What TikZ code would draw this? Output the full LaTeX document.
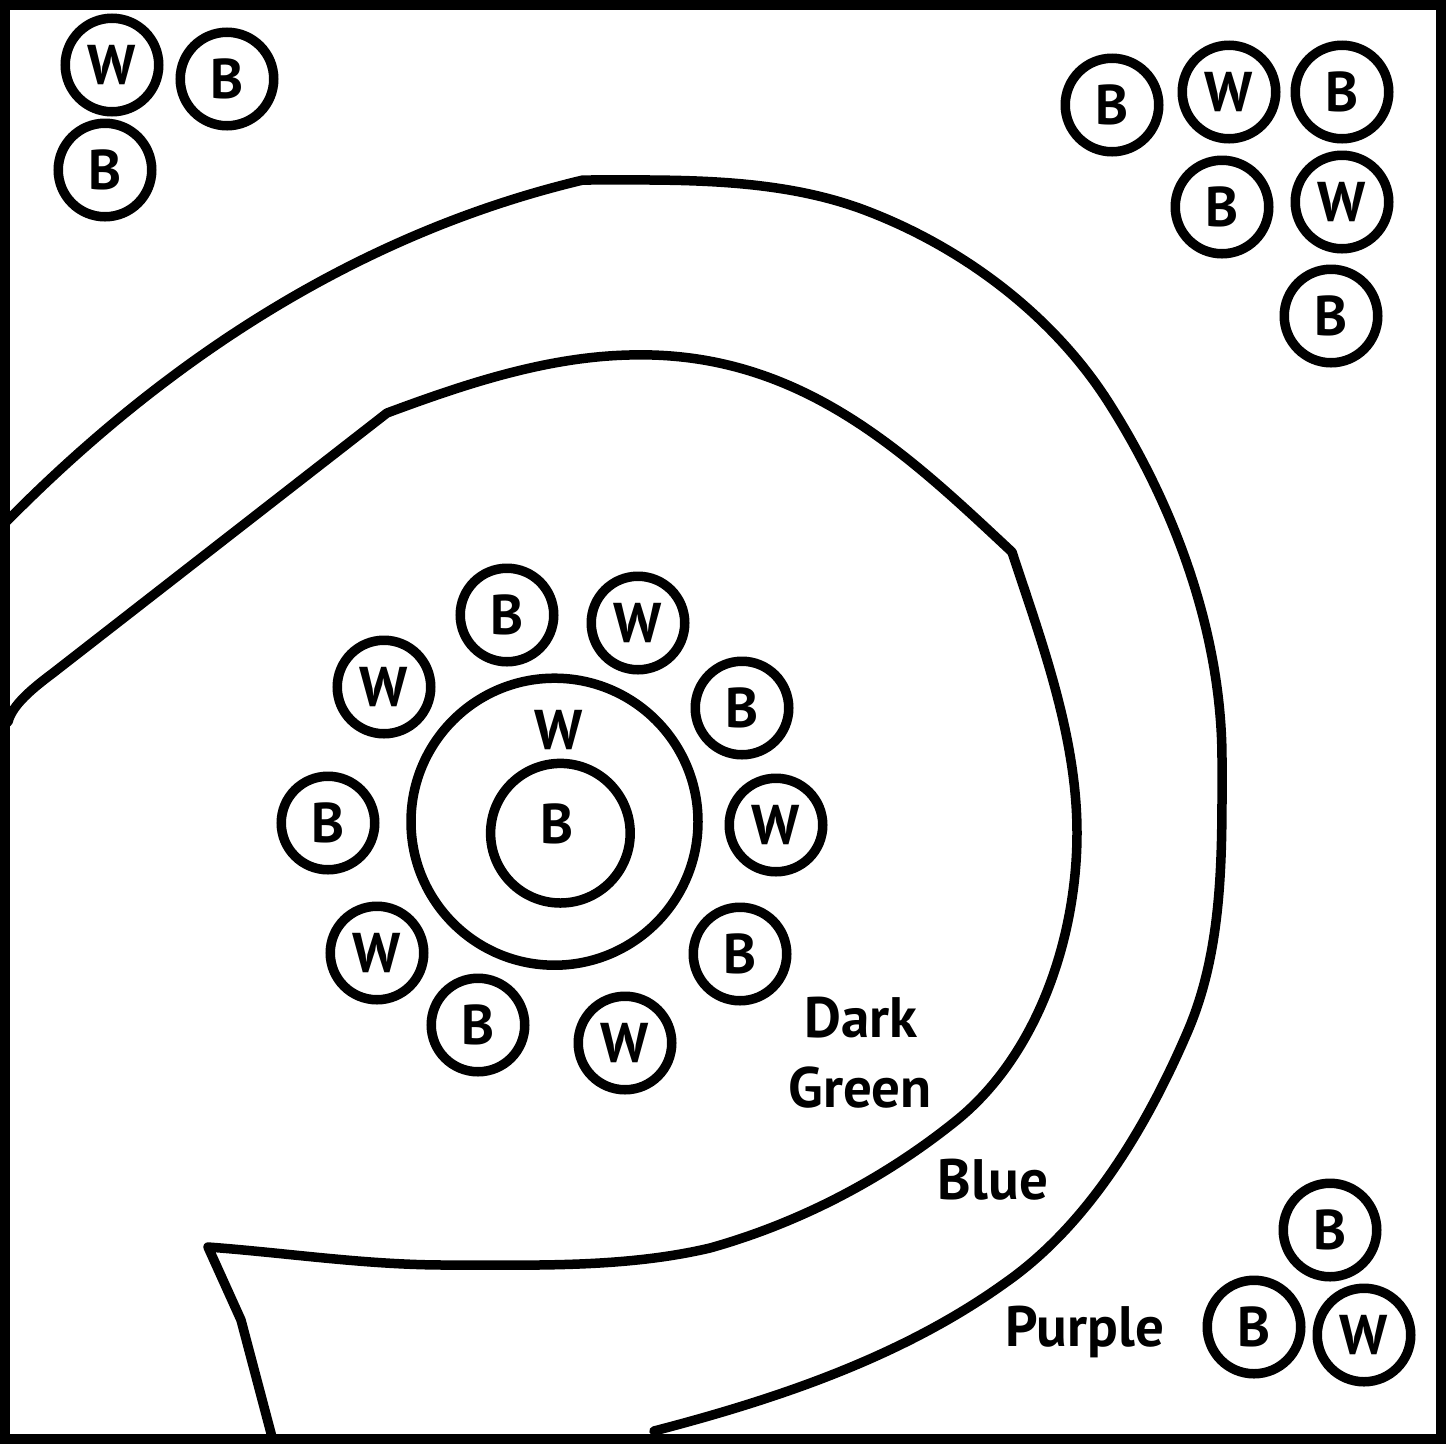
\documentclass[tikz,border=0pt]{standalone}
\usepackage{fontspec}
\setmainfont{PT Sans}
\begin{document}
\begin{tikzpicture}[x=1pt,y=-1pt,
  tok/.style={circle,draw,line width=9.5pt,minimum size=93.5pt,inner sep=0pt,
    font=\fontsize{56}{56}\selectfont\bfseries},
  lab/.style={inner sep=0pt,anchor=base,font=\fontsize{57}{57}\selectfont\bfseries},
  band/.style={line width=9.5pt,line cap=round,line join=round}]
\useasboundingbox (0,0) rectangle (1446,1444);
\draw[line width=10pt] (5,5) rectangle (1441,1439);

% outer boundary (between blue and purple)
\draw[band] (7,521) .. controls (168,358) and (360,233) .. (583,180)
  .. controls (675,180) and (772,177) .. (859,208)
  .. controls (958,244) and (1050,312) .. (1107,400)
  .. controls (1175,506) and (1222,634) .. (1222,760)
  .. controls (1222,852) and (1224,948) .. (1187,1033)
  .. controls (1146,1128) and (1088,1225) .. (1005,1283)
  .. controls (902,1357) and (777,1399) .. (654,1431);

% inner boundary (between dark green and blue)
\draw[band] (8,722) .. controls (12,705) and (33,688) .. (53,673) -- (387,413)
  .. controls (465,384) and (546,357) .. (629,355)
  .. controls (800,350) and (907,454) .. (1012,552)
  .. controls (1042,643) and (1077,737) .. (1077,833)
  .. controls (1077,937) and (1038,1054) .. (957,1120)
  .. controls (884,1179) and (799,1223) .. (710,1248)
  .. controls (625,1268) and (534,1265) .. (446,1265)
  .. controls (366,1265) and (288,1253) .. (208,1247)
  -- (241,1320) -- (272,1437);

% top-left group
\node[tok] (tl1) at (112,65) {W};
\node[tok] (tl2) at (227,79) {B};
\node[tok] (tl3) at (105,170) {B};

% top-right group
\node[tok] (tr1) at (1112,105) {B};
\node[tok] (tr2) at (1229,92) {W};
\node[tok] (tr3) at (1342,92) {B};
\node[tok] (tr4) at (1222,207) {B};
\node[tok] (tr5) at (1342,202) {W};
\node[tok] (tr6) at (1331,316) {B};

% centre
\node[circle,draw,line width=9.5pt,minimum size=287pt,inner sep=0pt] (big) at (554.5,821.7) {};
\node[circle,draw,line width=9.5pt,minimum size=139.6pt,inner sep=0pt] (small) at (560.4,833.2) {};
\node[lab,anchor=center,font=\fontsize{56}{56}\selectfont\bfseries] (bigW) at (559,730) {W};
\node[lab,anchor=center,font=\fontsize{56}{56}\selectfont\bfseries] (smallB) at (556.7,824) {B};

% ring
\node[tok] (r1) at (507,615) {B};
\node[tok] (r2) at (638,623) {W};
\node[tok] (r3) at (384,687) {W};
\node[tok] (r4) at (742,708) {B};
\node[tok] (r5) at (328,823) {B};
\node[tok] (r6) at (776,825) {W};
\node[tok] (r7) at (377,953) {W};
\node[tok] (r8) at (740,954) {B};
\node[tok] (r9) at (478,1025) {B};
\node[tok] (r10) at (625,1043) {W};

% bottom-right group
\node[tok] (br1) at (1330,1230) {B};
\node[tok] (br2) at (1254,1327) {B};
\node[tok] (br3) at (1364,1335) {W};

% region labels
\node[lab] (dark) at (861,1037) {Dark};
\node[lab] (green) at (860,1107) {Green};
\node[lab] (blue) at (993,1199) {Blue};
\node[lab] (purple) at (1085,1346) {Purple};
\end{tikzpicture}
\end{document}
